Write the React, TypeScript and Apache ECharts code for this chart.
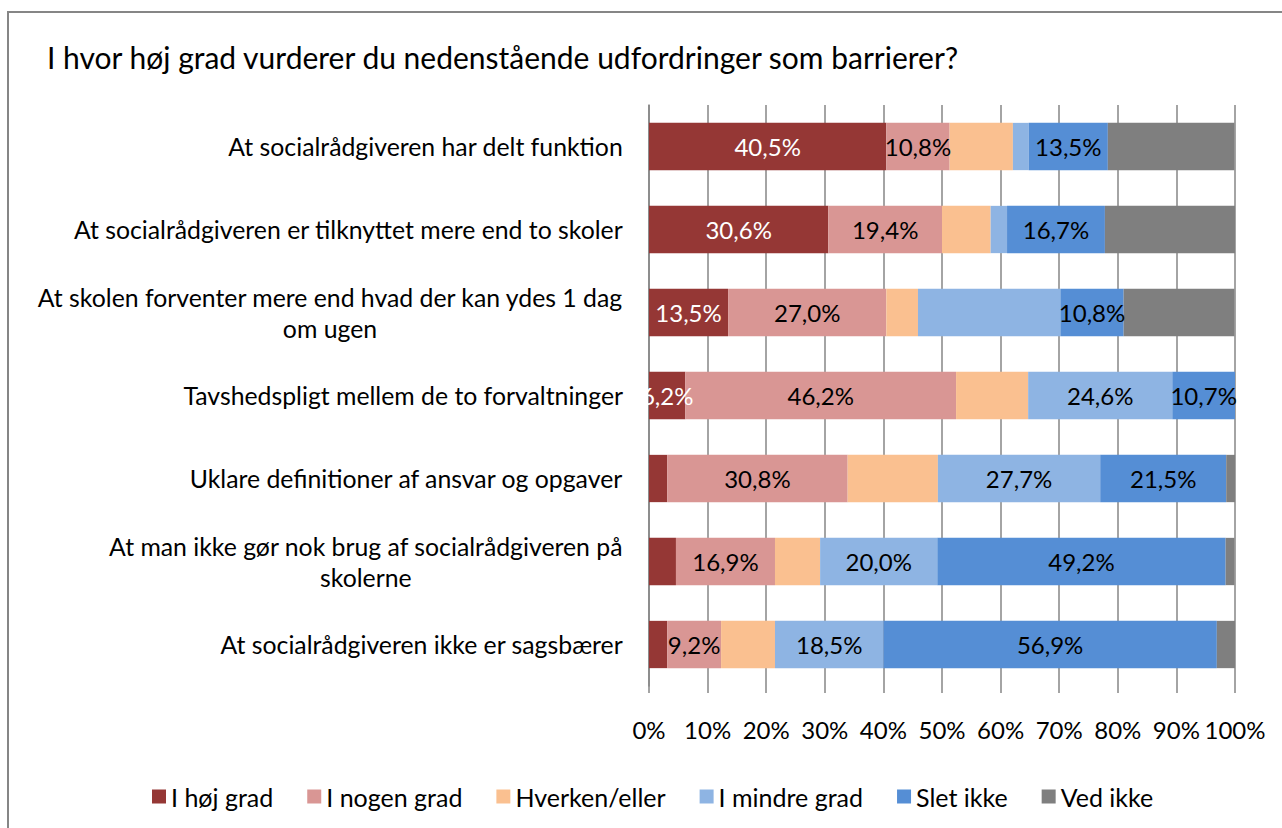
import React, { useEffect, useRef } from "react";
import * as echarts from "echarts";

const title = "I hvor høj grad vurderer du nedenstående udfordringer som barrierer?";

const categories = [
  "At socialrådgiveren har delt funktion",
  "At socialrådgiveren er tilknyttet mere end to skoler",
  "At skolen forventer mere end hvad der kan ydes 1 dag\nom ugen",
  "Tavshedspligt mellem de to forvaltninger",
  "Uklare definitioner af ansvar og opgaver",
  "At man ikke gør nok brug af socialrådgiveren på\nskolerne",
  "At socialrådgiveren ikke er sagsbærer",
];

const seriesNames = ["I høj grad", "I nogen grad", "Hverken/eller", "I mindre grad", "Slet ikke", "Ved ikke"];
const seriesColors = ["#953735", "#D99694", "#FAC090", "#8EB4E3", "#558ED5", "#7F7F7F"];
const labelColors = ["#FFFFFF", "#000000", "#000000", "#000000", "#000000", "#000000"];

const hoejGrad = [40.5, 30.6, 13.5, 6.2, 3.1, 4.6, 3.1];
const nogenGrad = [10.8, 19.4, 27.0, 46.2, 30.8, 16.9, 9.2];
const hverkenEller = [10.8, 8.3, 5.4, 12.3, 15.4, 7.7, 9.2];
const mindreGrad = [2.7, 2.8, 24.3, 24.6, 27.7, 20.0, 18.5];
const sletIkke = [13.5, 16.7, 10.8, 10.7, 21.5, 49.2, 56.9];
const vedIkke = [21.6, 22.2, 18.9, 0, 1.5, 1.5, 3.1];

// which data labels are displayed (1 = shown)
const showHoej = [1, 1, 1, 1, 0, 0, 0];
const showNogen = [1, 1, 1, 1, 1, 1, 1];
const showHverken = [0, 0, 0, 0, 0, 0, 0];
const showMindre = [0, 0, 0, 1, 1, 1, 1];
const showSlet = [1, 1, 1, 1, 1, 1, 1];
const showVed = [0, 0, 0, 0, 0, 0, 0];

const xTicks = [0, 10, 20, 30, 40, 50, 60, 70, 80, 90, 100];

const FONT = "Lato, 'Noto Sans', sans-serif";

export default function App() {
  const ref = useRef<HTMLDivElement>(null);
  useEffect(() => {
    if (!ref.current) return;
    const chart = echarts.init(ref.current, null, { renderer: "svg" });
    const values = [hoejGrad, nogenGrad, hverkenEller, mindreGrad, sletIkke, vedIkke];
    const shows = [showHoej, showNogen, showHverken, showMindre, showSlet, showVed];
    const series = seriesNames.map((name, si) => ({
      name,
      type: "bar",
      stack: "total",
      barCategoryGap: "43%",
      itemStyle: { color: seriesColors[si] },
      label: {
        show: false,
        position: "inside",
        color: labelColors[si],
        fontSize: 24,
        fontFamily: FONT,
        formatter: (p: any) => p.value.toFixed(1).replace(".", ",") + "%",
      },
      data: values[si].map((v, i) => ({ value: v, label: { show: shows[si][i] === 1 } })),
    }));
    chart.setOption({
      animation: false,
      backgroundColor: "#FFFFFF",
      textStyle: { fontFamily: FONT },
      title: {
        text: title,
        left: 42,
        top: 37,
        textStyle: { fontSize: 30, fontWeight: "normal", color: "#000", fontFamily: FONT },
      },
      graphic: [
        {
          type: "rect",
          shape: { x: 8, y: 12, width: 1400, height: 1000 },
          style: { fill: "none", stroke: "#868686", lineWidth: 2 },
          silent: true,
        },
      ],
      legend: {
        bottom: 14,
        left: 147,
        icon: "rect",
        itemWidth: 14,
        itemHeight: 14,
        itemGap: 34,
        textStyle: { fontSize: 25, color: "#000", fontFamily: FONT },
        data: seriesNames,
      },
      grid: { left: 649, right: 47, top: 105, bottom: 142, containLabel: false },
      xAxis: {
        type: "value",
        min: xTicks[0],
        max: xTicks[xTicks.length - 1],
        interval: xTicks[1] - xTicks[0],
        axisLine: { show: false },
        axisTick: { show: true, length: 7, lineStyle: { color: "#868686", width: 1.5 } },
        splitLine: { show: true, lineStyle: { color: "#868686", width: 1.5 } },
        axisLabel: {
          formatter: "{value}%",
          fontSize: 24,
          color: "#000",
          margin: 31,
          fontFamily: FONT,
        },
      },
      yAxis: {
        type: "category",
        inverse: true,
        data: categories,
        axisLine: { show: true, lineStyle: { color: "#868686", width: 1.5 } },
        axisTick: { show: false },
        axisLabel: {
          interval: 0,
          margin: 26,
          color: "#000",
          fontSize: 24.8,
          fontFamily: FONT,
          formatter: (v: string) =>
            v
              .split("\n")
              .map((l) => "{c|" + l + "}")
              .join("\n"),
          rich: {
            c: { align: "center", fontSize: 24.8, fontFamily: FONT, color: "#000", lineHeight: 31 },
          },
        },
      },
      series,
    });
    return () => chart.dispose();
  }, []);
  return (
    <div
      ref={ref}
      style={{ position: "fixed", left: 0, top: 0, width: 1282, height: 828 }}
    />
  );
}
